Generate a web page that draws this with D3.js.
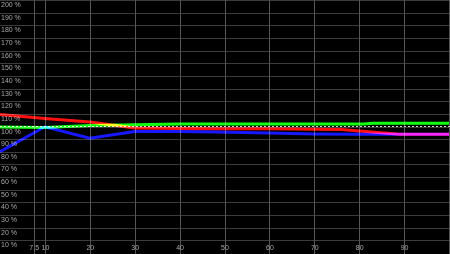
<html><head>
  <script src="https://d3js.org/d3.v7.min.js"></script>
  <style>
    body { margin:0; background:#000; overflow:hidden; }
    svg { display:block; background:#000; }
  </style>
</head>
<body>
  <svg id="chart" width=450 height=254></svg>
  <script>
    // tick values
    const xTicks = [7.5, 10, 20, 30, 40, 50, 60, 70, 80, 90];
    const xGrid = [7.5, 10, 20, 30, 40, 50, 60, 70, 80, 90, 100];
    const yTicks = [10, 20, 30, 40, 50, 60, 70, 80, 90, 100, 110, 120, 130, 140, 150, 160, 170, 180, 190, 200];

    // series (x, percent)
    const redSeries = [[0,109.5],[10,106.3],[20,103.6],[25,101.2],[30,98.8],[40,98.5],[50,98.3],[60,98.3],[70,97.8],[76,97.6],[89,93.9],[100,93.9]];
    const greenSeries = [[0,99.6],[10,99.2],[20,100.8],[30,101.3],[40,102],[60,102],[81,102],[83,102.5],[100,102.5]];
    const blueSeries = [[0,80],[10,99.8],[20,90.8],[30,96],[40,96],[48,95.6],[60,94.9],[70,94],[80,93.8],[100,93.8]];

    let svg = d3.select("svg#chart");
    let width = +svg.attr("width");
    let height = +svg.attr("height");

    let x = d3.scaleLinear().domain([0,100]).range([0,449]);
    let y = d3.scaleLinear().domain([0,200]).range([253,0]);

    // grid
    yTicks.forEach(d => {
      svg.append("line")
         .attr("x1",0).attr("x2",width)
         .attr("y1",Math.round(y(d))+0.5).attr("y2",Math.round(y(d))+0.5)
         .style("stroke","#3c3c3c").style("stroke-width",1);
    });
    xGrid.forEach(d => {
      svg.append("line")
         .attr("x1",Math.round(x(d))+0.5).attr("x2",Math.round(x(d))+0.5)
         .attr("y1",0).attr("y2",height)
         .style("stroke","#555").style("stroke-width",1);
    });

    // labels
    yTicks.forEach(d => {
      svg.append("text")
         .text(d + " %")
         .attr("x",1)
         .attr("y",Math.round(y(d)) + 7)
         .style("font-family","Liberation Sans, Arial")
         .style("font-size","7px")
         .style("fill","#a8a8a8");
    });
    xTicks.forEach(d => {
      svg.append("text")
         .text(d)
         .attr("x",x(d)+0.5)
         .attr("y",250)
         .style("text-anchor","middle")
         .style("font-family","Liberation Sans, Arial")
         .style("font-size","7px")
         .style("fill","#a8a8a8");
    });

    // 100% reference
    svg.append("line")
       .attr("x1",0).attr("x2",width)
       .attr("y1",Math.round(y(100))-0.5).attr("y2",Math.round(y(100))-0.5)
       .style("stroke","#d0d0d0").style("stroke-width",1)
       .style("stroke-dasharray","2,2");

    let line = d3.line().x(d => x(d[0])).y(d => y(d[1]));

    [[greenSeries,"#10ff10"],[redSeries,"#ff1010"],[blueSeries,"#1818ff"]].forEach(s => {
      svg.append("path")
         .attr("d",line(s[0]))
         .style("fill","none")
         .style("stroke",s[1])
         .style("stroke-width",3)
         .style("mix-blend-mode","screen");
    });
  </script>
</body>
</html>
